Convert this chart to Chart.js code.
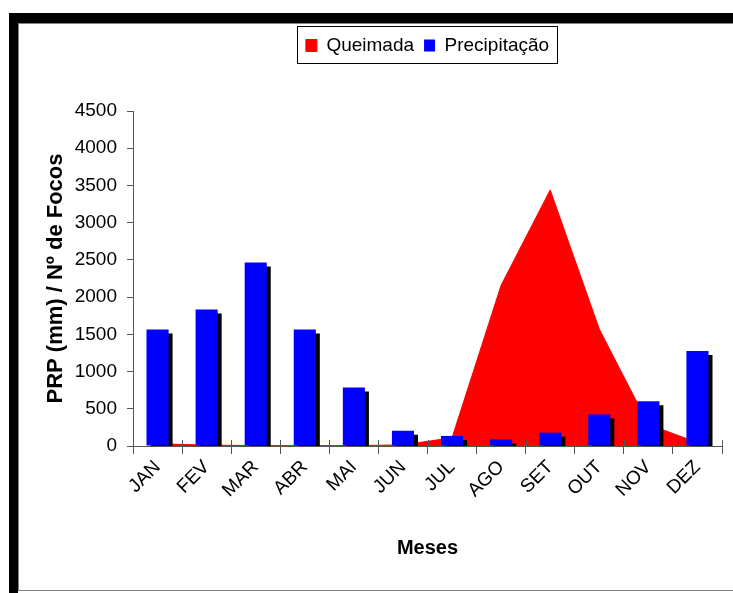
<!DOCTYPE html>
<html lang="pt">
<head>
    <meta charset="UTF-8">
    <title>Queimada x Precipitação</title>
    <script type="text/javascript" src="https://cdn.jsdelivr.net/npm/chart.js@4.4.1/dist/chart.umd.min.js"></script>
    <style>
        html, body { margin: 0; padding: 0; background: #fff; }
        body { width: 733px; height: 593px; position: relative; overflow: hidden; }
        /* moldura preta (topo e esquerda) */
        .moldura { position: absolute; left: 9px; top: 13px; width: 740px; height: 600px;
                   border-top: 10px solid #000; border-left: 9px solid #000; }
        .interna { position: absolute; left: 18px; top: 23px; width: 740px; height: 566px;
                   border-top: 1px solid #808080; border-left: 1px solid #808080; border-bottom: 1px solid #808080; }
        #grafico { position: absolute; left: 0; top: 0; }
    </style>
</head>
<body>
<div class="moldura"></div>
<div class="interna"></div>
<canvas id="grafico" width="733" height="593"></canvas>

<script type="text/javascript">
    // dados
    const meses = ['JAN', 'FEV', 'MAR', 'ABR', 'MAI', 'JUN', 'JUL', 'AGO', 'SET', 'OUT', 'NOV', 'DEZ'];
    const queimada = [30, 12, 5, 5, 5, 15, 110, 2160, 3440, 1570, 290, 45];
    const precipitacao = [1565, 1835, 2465, 1565, 785, 205, 135, 90, 180, 425, 600, 1275];
    const rotulosY = [0, 500, 1000, 1500, 2000, 2500, 3000, 3500, 4000, 4500];

    Chart.defaults.font.family = '"Liberation Sans", Arial, sans-serif';
    Chart.defaults.color = '#000';

    // sombra preta das barras
    const sombraBarras = {
        id: 'sombraBarras',
        beforeDatasetDraw(chart, args) {
            if (args.meta.type !== 'bar') return;
            const ctx = chart.ctx;
            ctx.save();
            ctx.shadowColor = '#000';
            ctx.shadowBlur = 0;
            ctx.shadowOffsetX = 4;
            ctx.shadowOffsetY = 4;
        },
        afterDatasetDraw(chart, args) {
            if (args.meta.type !== 'bar') return;
            chart.ctx.restore();
        }
    };

    // legenda centrada sobre a area do grafico, com caixa
    const legendaCaixa = {
        id: 'legendaCaixa',
        afterLayout(chart) {
            const lg = chart.legend, a = chart.chartArea;
            const h = lg.height;
            lg.left = a.left;
            lg.right = a.right;
            lg.width = a.right - a.left;
            lg.top = 26;
            lg.bottom = 26 + h;
        },
        afterDraw(chart) {
            const hb = chart.legend.legendHitBoxes;
            if (!hb || !hb.length) return;
            const ult = hb[hb.length - 1];
            const l = Math.round(hb[0].left - 9), r = Math.round(ult.left + ult.width + 8);
            const t = Math.round(hb[0].top - 10), b = Math.round(hb[0].top + hb[0].height + 8);
            const ctx = chart.ctx;
            ctx.save();
            ctx.strokeStyle = '#000';
            ctx.lineWidth = 1;
            ctx.strokeRect(l + 0.5, t + 0.5, r - l, b - t);
            ctx.restore();
        }
    };

    // tracinhos do eixo X que atravessam a linha
    const tracosInternos = {
        id: 'tracosInternos',
        afterDatasetsDraw(chart) {
            const xs = chart.scales.x, ctx = chart.ctx;
            const n = xs.ticks.length, passo = xs.width / n;
            ctx.save();
            ctx.strokeStyle = '#555';
            ctx.lineWidth = 1;
            ctx.beginPath();
            for (let i = 0; i <= n; i++) {
                const x = Math.round(xs.left + i * passo) + 0.5;
                ctx.moveTo(x, xs.top - 6);
                ctx.lineTo(x, xs.top);
            }
            ctx.stroke();
            ctx.restore();
        }
    };

    new Chart(document.getElementById('grafico').getContext('2d'), {
        type: 'bar',
        data: {
            labels: meses,
            datasets: [
                {
                    type: 'line',
                    label: 'Queimada',
                    data: queimada,
                    borderColor: '#ff0000',
                    backgroundColor: '#ff0000',
                    borderWidth: 1,
                    fill: 'origin',
                    pointRadius: 0,
                    tension: 0,
                    order: 2
                },
                {
                    type: 'bar',
                    label: 'Precipitação',
                    data: precipitacao,
                    backgroundColor: '#0000ff',
                    borderWidth: 0,
                    barPercentage: 0.5,
                    categoryPercentage: 0.9,
                    clip: 0,
                    order: 1
                }
            ]
        },
        options: {
            responsive: false,
            animation: false,
            devicePixelRatio: 1,
            layout: {padding: {top: 72, right: 11, bottom: 0, left: 0}},
            plugins: {
                tooltip: {enabled: false},
                legend: {
                    position: 'top',
                    labels: {
                        boxWidth: 11, boxHeight: 12, padding: 10, color: '#000', font: {size: 19},
                        sort: (a, b) => a.datasetIndex - b.datasetIndex
                    }
                }
            },
            scales: {
                x: {
                    grid: {offset: true, drawOnChartArea: false, tickLength: 8, color: '#555'},
                    border: {color: '#555'},
                    ticks: {minRotation: 45, maxRotation: 45, padding: 2, color: '#000', font: {size: 19}},
                    title: {
                        display: true, text: 'Meses', color: '#000',
                        font: {size: 20, weight: 'bold'},
                        padding: {top: 0, bottom: 33}
                    },
                    afterFit(s) { s.height = 147; }
                },
                y: {
                    min: rotulosY[0],
                    max: rotulosY[rotulosY.length - 1],
                    afterBuildTicks(s) { s.ticks = rotulosY.map(v => ({value: v})); },
                    ticks: {padding: 10, color: '#000', font: {size: 19}, callback: v => String(v)},
                    grid: {drawOnChartArea: false, tickLength: 6, color: '#555'},
                    border: {color: '#555'},
                    title: {
                        display: true, text: 'PRP (mm) / Nº de Focos', color: '#000',
                        font: {size: 22, weight: 'bold'},
                        padding: {top: 43, bottom: 0}
                    },
                    afterFit(s) { s.width = 133; }
                }
            }
        },
        plugins: [sombraBarras, legendaCaixa, tracosInternos]
    });
</script>
</body>
</html>
